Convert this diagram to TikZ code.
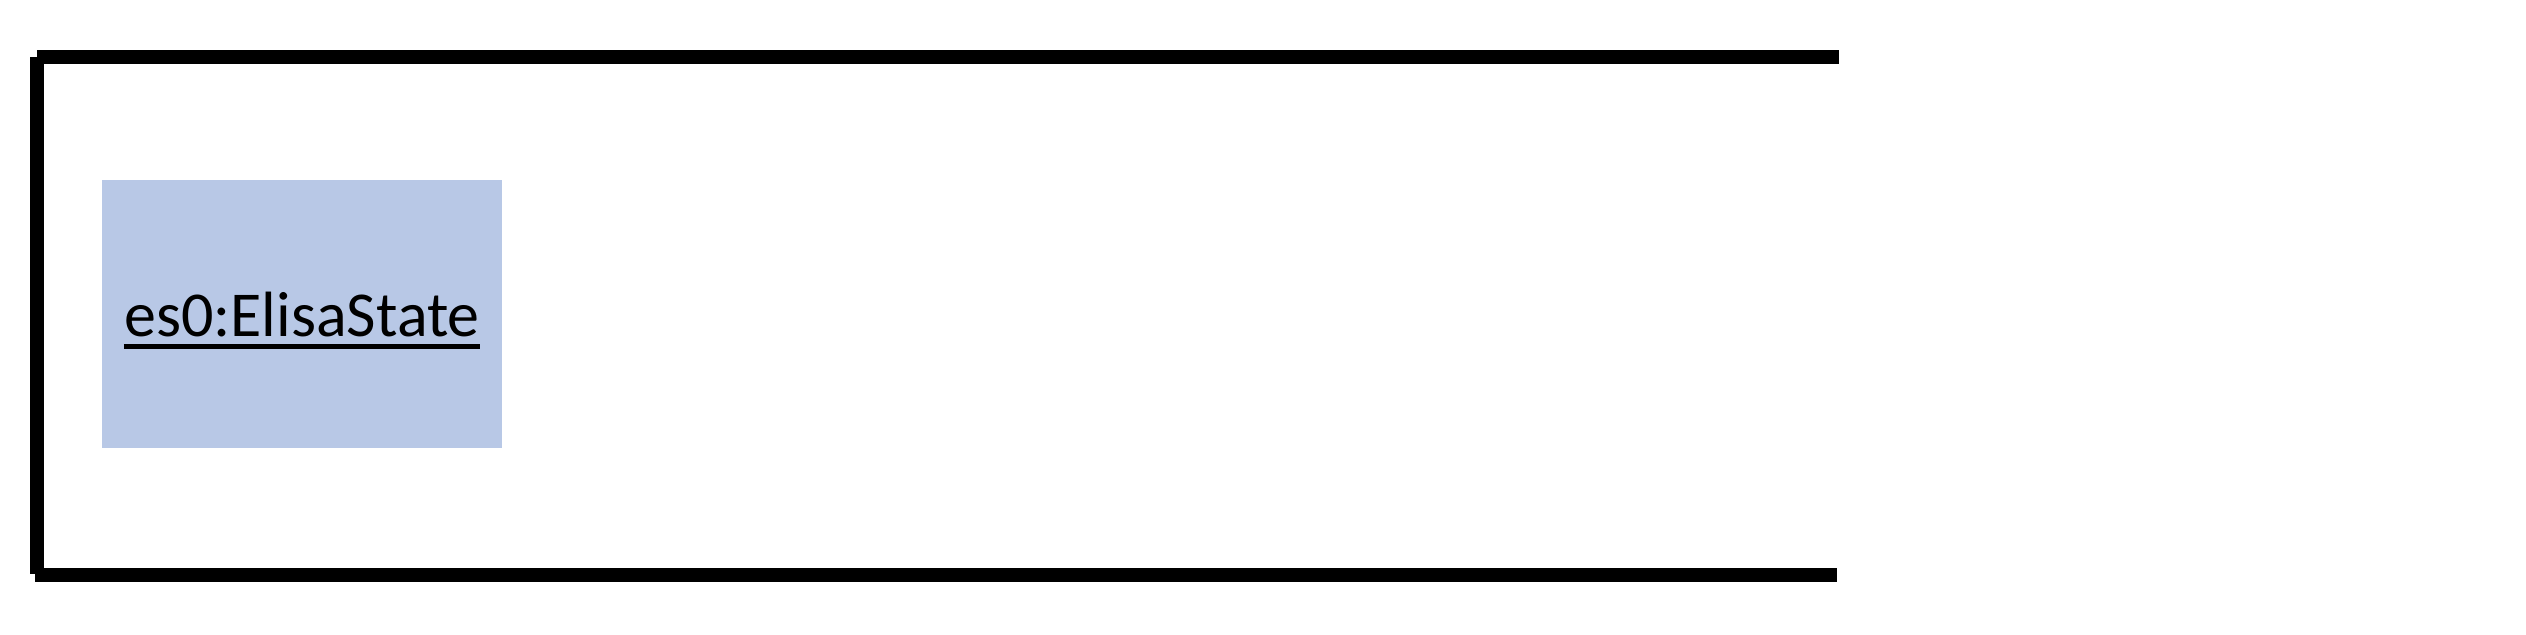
\documentclass[tikz,border=0pt]{standalone}
\definecolor{stateblue}{RGB}{184, 200, 230}
\usepackage{fontspec}
\setmainfont{Carlito}
\usepackage{tikz}
\usetikzlibrary{positioning, calc}

\begin{document}
\begin{tikzpicture}[x=0.5pt, y=-0.5pt,
    frameline/.style={line width=7pt, line cap=butt}]
  \useasboundingbox (0,0) rectangle (2526,634);
  % frame
  \coordinate (tl) at (37,57);
  \coordinate (tr) at (1839,57);
  \coordinate (bl) at (37,575);
  \coordinate (br) at (1837,575);
  \draw[frameline] (tl) -- (tr);
  \draw[frameline] (tl) -- ([yshift=0.5pt]bl);
  \draw[frameline] ([xshift=-1pt]bl) -- (br);
  % object box
  \node[fill=stateblue, minimum width=200pt, minimum height=134pt, inner sep=0pt] (es) at (302,314) {};
  \node[inner sep=0pt, anchor=base, font=\fontsize{32pt}{38pt}\selectfont] (estxt) at (302,336) {es0:ElisaState};
  \draw[line width=2.5pt] ([yshift=-5.2pt]estxt.base west) -- ([yshift=-5.2pt]estxt.base east);
\end{tikzpicture}
\end{document}
